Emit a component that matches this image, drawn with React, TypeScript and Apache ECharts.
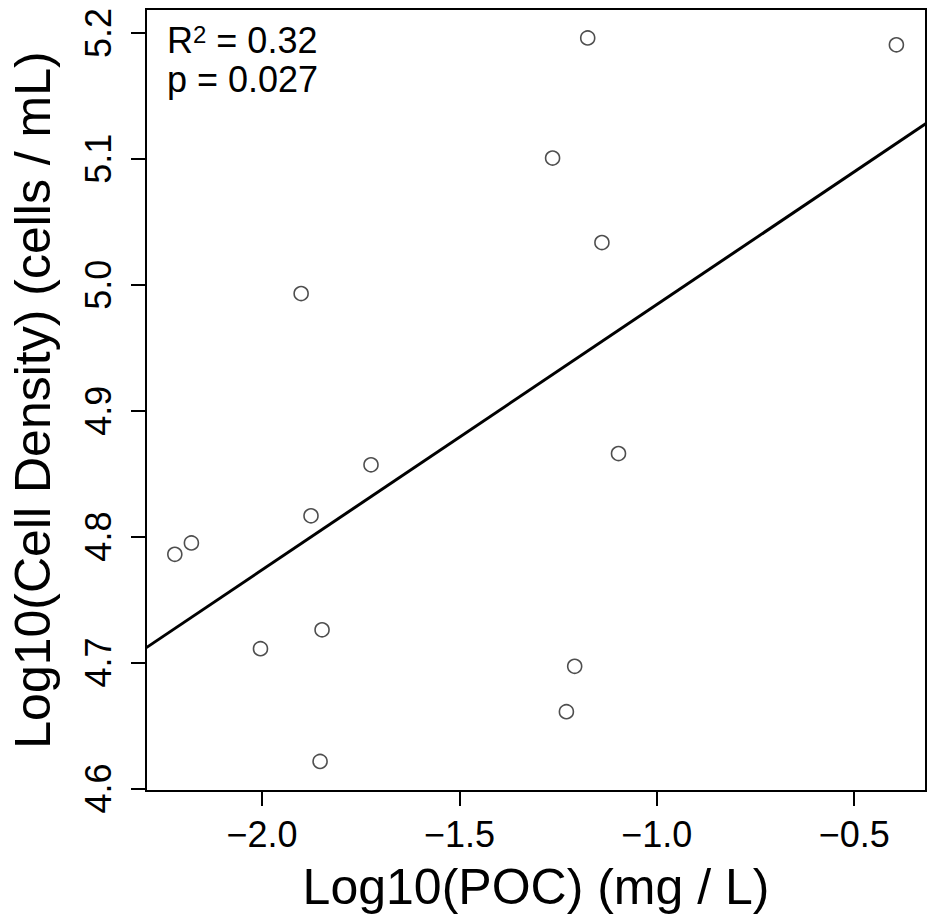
import React, { useEffect, useRef } from "react";
import * as echarts from "echarts";

// Observed data: Log10(POC) vs Log10(Cell Density)
const pocLog10 = [
  -2.221, -2.179, -1.876, -1.848, -2.004, -1.853, -1.901, -1.724,
  -1.175, -1.264, -1.139, -1.097, -1.208, -1.229, -0.393,
];
const cellDensityLog10 = [
  4.786, 4.795, 4.8165, 4.726, 4.711, 4.6215, 4.993, 4.857,
  5.196, 5.1006, 5.0335, 4.866, 4.697, 4.661, 5.1906,
];

// Linear fit
const fitIntercept = 5.195;
const fitSlope = 0.2107;

// Axis ranges and ticks
const xRange = [-2.294, -0.318];
const yRange = [4.598, 5.219];
const xTicks = [-2.0, -1.5, -1.0, -0.5];
const yTicks = [4.6, 4.7, 4.8, 4.9, 5.0, 5.1, 5.2];

const statLines = ["R2 = 0.32", "p = 0.027"];

const FONT = "'Liberation Sans', Arial, Helvetica, sans-serif";

export default function App() {
  const ref = useRef<HTMLDivElement>(null);

  useEffect(() => {
    if (!ref.current) return;
    const chart = echarts.init(ref.current, null, { renderer: "svg" });

    const points = pocLog10.map((x, i) => [x, cellDensityLog10[i]]);
    const fitLine = xRange.map((x) => [x, fitIntercept + fitSlope * x]);

    const fmt = (v: number) => v.toFixed(1).replace("-", "\u2212");

    chart.setOption({
      animation: false,
      backgroundColor: "#ffffff",
      textStyle: { fontFamily: FONT },
      grid: {
        left: 145,
        top: 9,
        width: 781,
        height: 782,
        show: true,
        borderColor: "#000",
        borderWidth: 2,
        backgroundColor: "transparent",
      },
      xAxis: {
        type: "value",
        min: xRange[0],
        max: xRange[1],
        name: "Log10(POC) (mg / L)",
        nameLocation: "middle",
        nameGap: 71,
        nameTextStyle: { fontSize: 50, color: "#000", fontFamily: FONT },
        axisLine: { show: false },
        splitLine: { show: false },
        axisTick: {
          show: true,
          inside: false,
          length: 15,
          lineStyle: { color: "#000", width: 2 },
          customValues: xTicks,
        },
        axisLabel: {
          show: true,
          margin: 25,
          fontSize: 36,
          color: "#000",
          fontFamily: FONT,
          customValues: xTicks,
          formatter: (v: number) => fmt(v),
        },
      },
      yAxis: {
        type: "value",
        min: yRange[0],
        max: yRange[1],
        name: "Log10(Cell Density) (cells / mL)",
        nameLocation: "middle",
        nameGap: 88,
        nameTextStyle: { fontSize: 50, color: "#000", fontFamily: FONT },
        axisLine: { show: false },
        splitLine: { show: false },
        axisTick: {
          show: true,
          inside: false,
          length: 15,
          lineStyle: { color: "#000", width: 2 },
          customValues: yTicks,
        },
        axisLabel: {
          show: true,
          rotate: 90,
          margin: 30,
          fontSize: 36,
          color: "#000",
          fontFamily: FONT,
          customValues: yTicks,
          formatter: (v: number) => v.toFixed(1),
        },
      },
      series: [
        {
          type: "line",
          data: fitLine,
          symbol: "none",
          lineStyle: { color: "#000", width: 3 },
          clip: true,
          z: 2,
        },
        {
          type: "scatter",
          data: points,
          symbol: "circle",
          symbolSize: 14,
          itemStyle: { color: "#fff", borderColor: "#222", borderWidth: 1.6 },
          z: 3,
        },
      ],
      graphic: [
        {
          type: "text",
          left: 167,
          top: 22,
          style: {
            text: "{a|R}{s|2}{a| = 0.32}",
            rich: {
              a: { fontSize: 36, lineHeight: 36, fill: "#000", fontFamily: FONT },
              s: { fontSize: 24, lineHeight: 24, fill: "#000", fontFamily: FONT, verticalAlign: "top" },
            },
          },
        },
        {
          type: "text",
          left: 167,
          top: 61,
          style: {
            text: statLines[1],
            fontSize: 36,
            lineHeight: 36,
            fill: "#000",
            fontFamily: FONT,
          },
        },
      ],
    });

    return () => chart.dispose();
  }, []);

  return (
    <div
      ref={ref}
      style={{ position: "absolute", left: 0, top: 0, width: 930, height: 921 }}
    />
  );
}
